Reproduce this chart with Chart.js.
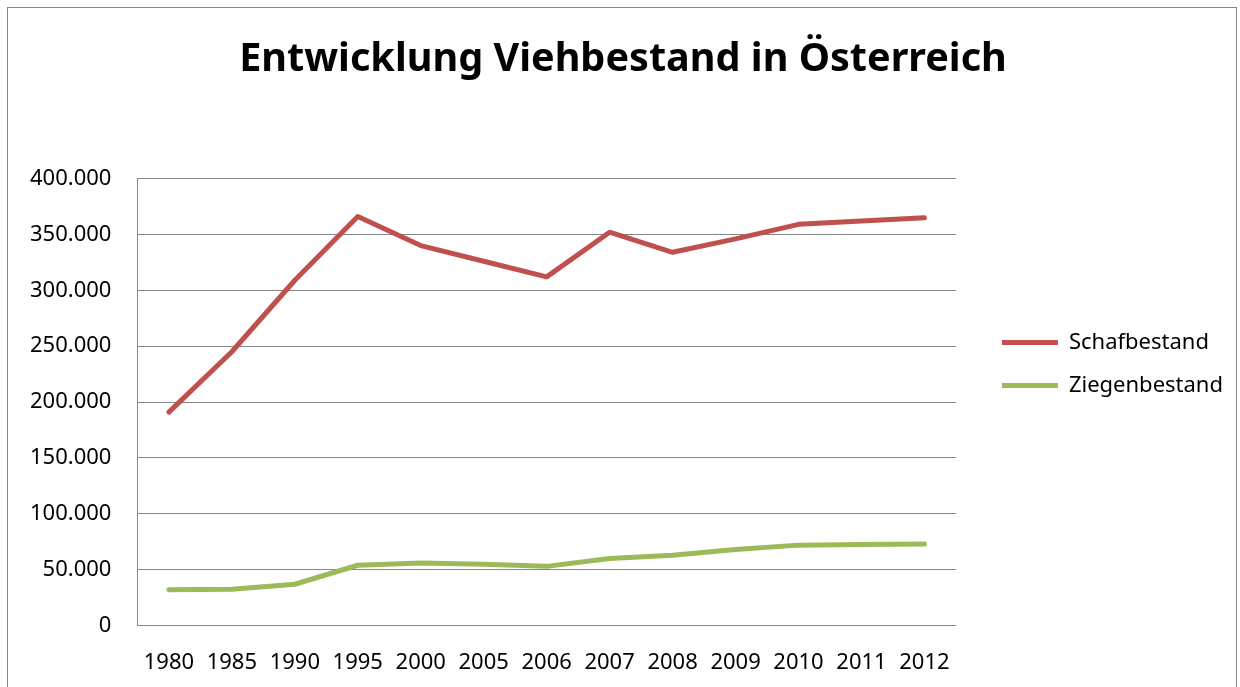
<!DOCTYPE html>
<html>
<head>
<meta charset="utf-8">
<script src="https://cdn.jsdelivr.net/npm/chart.js@4"></script>
<style>
  html, body { margin: 0; padding: 0; background: #fff; overflow: hidden; }
  #wrap { position: relative; width: 1240px; height: 687px; overflow: hidden; }
  #frame { position: absolute; left: 7px; top: 7px; width: 1228px; height: 700px; border: 1px solid #868686; pointer-events: none; }
</style>
</head>
<body>
<div id="wrap">
  <canvas id="chart" width="1240" height="687"></canvas>
  <div id="frame"></div>
</div>
<script>
// Daten
const years = ['1980', '1985', '1990', '1995', '2000', '2005', '2006', '2007', '2008', '2009', '2010', '2011', '2012'];
const schafbestand = [191000, 245000, 309000, 366000, 340000, 326000, 312000, 352000, 334000, 346000, 359000, 362000, 365000];
const ziegenbestand = [32000, 32500, 37000, 54000, 56000, 55000, 53000, 60000, 63000, 68000, 72000, 72500, 73000];
const yTicks = [0, 50000, 100000, 150000, 200000, 250000, 300000, 350000, 400000];

// Tausenderpunkt
function formatNumber(v) {
  return String(v).replace(/\B(?=(\d{3})+(?!\d))/g, '.');
}

const font = "'Noto Sans', 'Open Sans', sans-serif";
Chart.defaults.font.family = font;
Chart.defaults.color = '#000';

// Legende und Titel etwas verschieben
const boxShift = {
  id: 'boxShift',
  afterLayout(chart) {
    const lg = chart.legend;
    lg.left += 25; lg.right += 25;
    lg.top += 14; lg.bottom += 14;
    const tb = chart.titleBlock;
    tb.left += 17; tb.right += 17;
  }
};

new Chart(document.getElementById('chart'), {
  type: 'line',
  data: {
    labels: years,
    datasets: [
      {
        label: 'Schafbestand',
        data: schafbestand,
        borderColor: '#C0504D',
        backgroundColor: '#C0504D',
        borderWidth: 5,
        pointRadius: 0,
        borderCapStyle: 'round',
        borderJoinStyle: 'round',
        tension: 0
      },
      {
        label: 'Ziegenbestand',
        data: ziegenbestand,
        borderColor: '#9BBB59',
        backgroundColor: '#9BBB59',
        borderWidth: 5,
        pointRadius: 0,
        borderCapStyle: 'round',
        borderJoinStyle: 'round',
        tension: 0
      }
    ]
  },
  options: {
    responsive: false,
    animation: false,
    layout: {
      padding: { left: 4, right: 32, top: 0, bottom: -13 }
    },
    plugins: {
      title: {
        display: true,
        text: 'Entwicklung Viehbestand in Österreich',
        color: '#000',
        font: { size: 39.6, weight: 'bold', family: font },
        padding: { top: 36, bottom: 95 }
      },
      legend: {
        position: 'right',
        labels: {
          usePointStyle: true,
          pointStyle: 'line',
          pointStyleWidth: 56,
          color: '#000',
          font: { size: 22, family: font },
          padding: 21
        }
      },
      tooltip: { enabled: false }
    },
    scales: {
      x: {
        offset: true,
        grid: { display: false, drawTicks: false, offset: true },
        border: { color: '#868686', width: 1 },
        ticks: { padding: 24, maxRotation: 0, autoSkip: false, font: { size: 22 } }
      },
      y: {
        min: 0,
        max: 400000,
        afterBuildTicks: (axis) => { axis.ticks = yTicks.map(v => ({ value: v })); },
        grid: { color: '#868686', lineWidth: 1, drawTicks: false },
        border: { color: '#868686', width: 1 },
        ticks: { padding: 26, font: { size: 22 }, callback: (v) => formatNumber(v) }
      }
    }
  },
  plugins: [boxShift]
});
</script>
</body>
</html>
